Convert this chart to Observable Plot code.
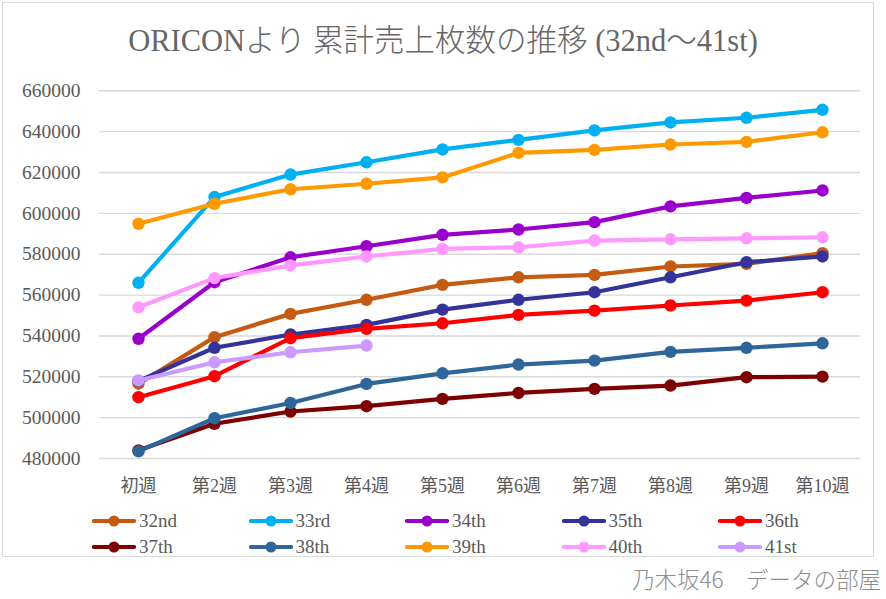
<!DOCTYPE html>
<html>
<head>
<meta charset="utf-8">
<script src="https://cdn.jsdelivr.net/npm/d3@7"></script>
<script src="https://cdn.jsdelivr.net/npm/@observablehq/plot@0.6"></script>
<style>
  html, body { margin: 0; padding: 0; background: #fff; }
  #root { position: relative; width: 886px; height: 599px; overflow: hidden; background: #fff; }
  #frame { position: absolute; left: 2px; top: 2px; width: 872px; height: 555px; border: 1px solid #d9d9d9; box-sizing: border-box; }
  #title { position: absolute; left: 0; width: 886px; top: 21px; text-align: center; font-family: 'Liberation Serif','Noto Sans CJK JP',serif; font-weight: 300; font-size: 30.5px; color: #666; line-height: 40px; white-space: nowrap; }
  #chart { position: absolute; left: 0; top: 0; }
  .leg { position: absolute; display: flex; align-items: center; font-family: 'Liberation Serif','Noto Sans CJK JP',serif; font-size: 19px; color: #595959; white-space: nowrap; }
  .leg svg { margin-right: 3px; }
  #caption { position: absolute; right: 5px; top: 562px; font-family: 'Noto Sans CJK JP','Noto Sans',sans-serif; font-weight: 300; font-size: 22.5px; color: #8c8c8c; line-height: 32px; white-space: nowrap; }
</style>
</head>
<body>
<div id="root">
  <div id="frame"></div>
  <div id="title">ORICONより 累計売上枚数の推移 (32nd～41st)</div>
  <div id="chart"></div>
  <div id="legend"></div>
  <div id="caption">乃木坂46　データの部屋</div>
</div>
<script>
// Categories
const weeks = ["初週", "第2週", "第3週", "第4週", "第5週", "第6週", "第7週", "第8週", "第9週", "第10週"];
const seriesNames = ["32nd", "33rd", "34th", "35th", "36th", "37th", "38th", "39th", "40th", "41st"];
const seriesColors = ["#C55A11", "#00B0F0", "#9900CC", "#333399", "#FF0000", "#7F0000", "#2F6699", "#FF9900", "#FF99FF", "#CC99FF"];
const yTicks = [480000, 500000, 520000, 540000, 560000, 580000, 600000, 620000, 640000, 660000];

// Series values (cumulative sales)
const s32nd = [516600, 539400, 550800, 557700, 565000, 568700, 569900, 574000, 575300, 580500];
const s33rd = [566000, 608000, 619000, 625000, 631300, 636000, 640600, 644500, 646800, 650700];
const s34th = [538600, 566300, 578500, 583900, 589500, 592100, 595700, 603400, 607600, 611200];
const s35th = [518000, 534200, 540700, 545400, 552900, 557700, 561400, 568700, 576100, 578900];
const s36th = [510000, 520300, 538900, 543500, 546200, 550300, 552400, 554900, 557300, 561400];
const s37th = [484000, 497000, 503000, 505600, 509200, 512100, 514100, 515700, 519800, 520100];
const s38th = [483500, 499700, 507200, 516500, 521700, 526000, 527900, 532200, 534200, 536400];
const s39th = [594900, 604700, 611800, 614500, 617600, 629600, 631100, 633700, 635000, 639700];
const s40th = [554000, 568300, 574500, 578900, 582600, 583400, 586700, 587300, 587800, 588300];
const s41st = [518200, 527100, 532000, 535300];

const seriesValues = [s32nd, s33rd, s34th, s35th, s36th, s37th, s38th, s39th, s40th, s41st];

const rows = [];
seriesNames.forEach((name, i) => {
  seriesValues[i].forEach((v, j) => rows.push({series: name, week: weeks[j], value: v}));
});

const marks = [
  Plot.gridY(yTicks, {stroke: "#d9d9d9", strokeOpacity: 1, strokeWidth: 1.4}),
  Plot.axisY(yTicks, {tickSize: 0, tickPadding: 19, tickFormat: d3.format("d"), fontSize: 19.5, label: null}),
  Plot.axisX({tickSize: 0, tickPadding: 21, fontSize: 18, label: null})
];
seriesNames.forEach((name, i) => {
  const d = rows.filter(r => r.series === name);
  marks.push(Plot.line(d, {x: "week", y: "value", stroke: seriesColors[i], strokeWidth: 4.2}));
  marks.push(Plot.dot(d, {x: "week", y: "value", r: 6.2, fill: seriesColors[i], stroke: "none"}));
});

const chart = Plot.plot({
  width: 886,
  height: 500,
  marginLeft: 99,
  marginRight: 26,
  marginTop: 90.3,
  marginBottom: 42,
  style: {fontFamily: "'Liberation Serif','Noto Sans CJK JP',serif", fontSize: "18px", color: "#595959", background: "transparent"},
  x: {type: "point", domain: weeks, padding: 0.5},
  y: {domain: [480000, 660000]},
  marks
});
document.getElementById("chart").appendChild(chart);

// Legend
const legend = document.getElementById("legend");
seriesNames.forEach((name, i) => {
  const col = i % 5, row = Math.floor(i / 5);
  const div = document.createElement("div");
  div.className = "leg";
  div.style.left = (92 + col * 156.5) + "px";
  div.style.top = (509 + row * 26) + "px";
  div.style.height = "24px";
  const c = seriesColors[i];
  div.innerHTML = `<svg width="44" height="14"><line x1="2" y1="7" x2="42" y2="7" stroke="${c}" stroke-width="4.2" stroke-linecap="round"/><circle cx="22" cy="7" r="5.5" fill="${c}"/></svg><span>${name}</span>`;
  legend.appendChild(div);
});
</script>
</body>
</html>
